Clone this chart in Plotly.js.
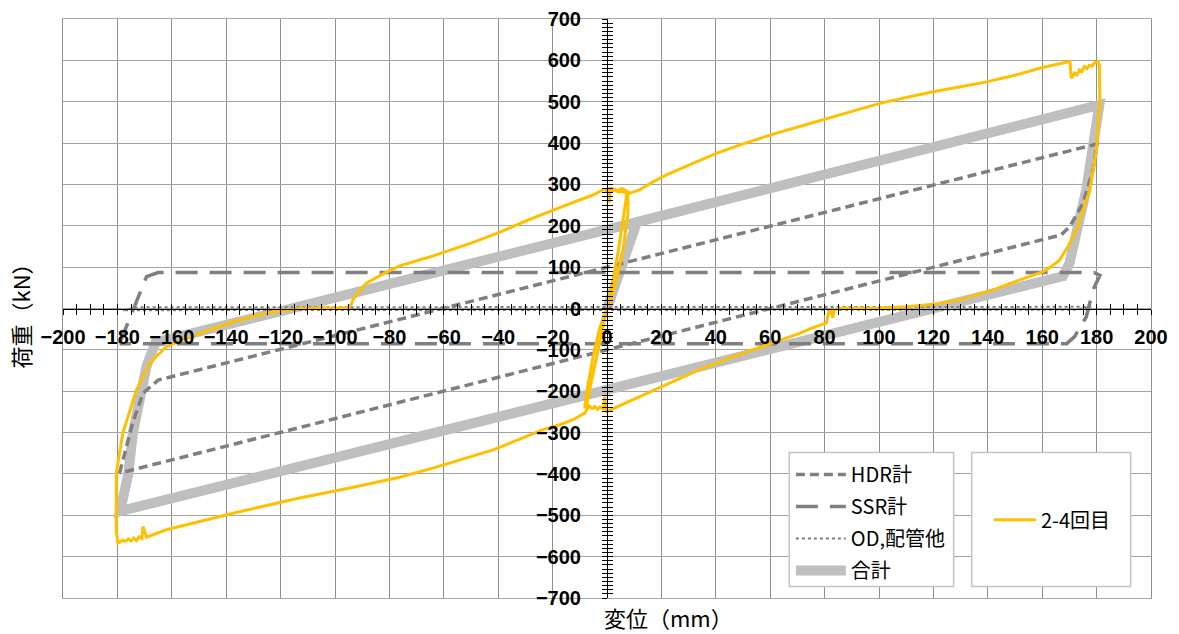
<!DOCTYPE html>
<html>
<head>
<meta charset="utf-8">
<script src="https://cdn.plot.ly/plotly-3.0.1.min.js"></script>
<style>
  html, body { margin: 0; padding: 0; background: #ffffff; }
  #chart { width: 1179px; height: 634px; }
</style>
</head>
<body>
<div id="chart"></div>
<script>
// Load–displacement hysteresis: displacement (mm) vs load (kN)

// HDR計
const hdrX = [-179.2, -174.4, -170.6, -165, 180.2, 178.7, 175, 170.1, 167, -179.2];
const hdrY = [-398, -277, -205, -173, 398, 335, 254, 198, 178, -398];

// SSR計
const ssrX = [-179.2, -176.5, -174.3, -169.3, -165, 179, 181.2, 178.7, 176.2, 171.9, 169, -179.2];
const ssrY = [-85, -40, -3, 77, 87, 87, 80, 45, -20, -68, -85, -85];

// OD,配管他
const odX = [-178, -172, 178, 172, -178];
const odY = [-4, 3, 4, -3, -4];

// 合計
const sumX = [0, 11, 181, 180, 176.2, 170, 167.6, -179, -176, -174.3, -169.3, -166, 11];
const sumY = [0, 209, 492, 440, 287, 109, 78, -490, -400, -301, -140, -82, 209];

// 2-4回目 (measured loop)
const testX = [
  0, 0.4, 2.2, 4, 5.9, 7.1,
  7.4, 6, 4.5, 3, 1.8, 1, 0.9, 0.5, -0.5, 1.5, 3.5, 5.5, 8.4,
  12, 16, 21.8, 30, 40.2, 50, 62.3, 70.8, 79.4, 90, 100.3, 110, 119.9, 130, 139.5, 150, 159, 165, 170.2,
  170.7, 171.9, 172.8, 173.7, 174.6, 175.5, 176.4, 177.3, 178.3, 179.3, 180.5,
  181, 181.2, 180, 177.5, 175, 172.6, 169.5, 166.4, 163, 160.3, 150, 141.9, 129.7, 120, 110, 100, 90, 85,
  83.6, 83, 82.2, 81.6, 80.7,
  75, 70.8, 58.6, 45, 34, 23, 9.6, 4, 1,
  0, -0.5, -0.8, -1.2, -2.5, -3.5, -4.5, -5.5, -6.5, -7.5, -8.2,
  -12.5, -17.4, -23.5, -41.9, -64, -76.2, -94.6, -113, -137.5, -150, -162, -169.3,
  -170.6, -171, -172, -173, -174, -175, -176, -177, -178, -179.8,
  -180.4, -180.4, -180.4, -178, -173, -168.1, -162, -149.7, -137.5, -125.2, -113, -105, -95.2,
  -94, -93.4, -91, -88.5, -82, -76.2, -65, -50, -40, -29, -15, -5, -1.5,
  1, 7.7, 7.7, 5.9, 3.5, 1, 0,
  -1.5, -3.9, -6, -7.6, -8.2, -7, -5.1, -2.8, -0.3
];
const testY = [
  0, 5, 69, 134, 214, 270,
  283, 287, 281, 288, 283, 290, 256, 282, 286, 291, 284, 290, 279,
  287, 303, 323, 347, 375, 398, 424, 440, 456, 476, 496, 510, 524, 536, 548, 564, 581, 590, 597,
  557, 569, 565, 577, 573, 585, 580, 588, 586, 594, 597,
  590, 504, 383, 287, 235, 190, 150, 117, 100, 89, 65, 45, 21, 10, 4, 1, 0.5, 0,
  -3, -22, -2, -6, -35,
  -48, -60, -88, -120, -148, -181, -221, -237, -246,
  -249, -240, -213, -243, -238, -244, -237, -242, -236, -245, -253,
  -269, -281, -293, -342, -386, -408, -434, -458, -495, -515, -535, -553,
  -527, -556, -552, -561, -555, -562, -557, -563, -560, -567,
  -540, -495, -398, -301, -197, -132, -92, -60, -32, -11, 0, 1, 1,
  10, 21, 42, 61, 85, 103, 125, 158, 183, 214, 250, 275, 287,
  290, 279, 230, 142, 69, 13, 0,
  -45, -116, -185, -238, -240, -185, -116, -50, -3
];

// axis ticks
const xRange = [-200, 200];
const yRange = [-700, 700];
const xMajor = 20, xMinor = 5;
const yMajor = 100, yMinor = 10;

const TXT = 'Liberation Sans, Arial, sans-serif';
const JP = 'Noto Sans CJK JP, sans-serif';
const GREY = '#7f7f7f';

const traces = [
  { x: sumX, y: sumY, name: '合計', mode: 'lines', legend: 'legend', legendgroup: 'g4', legendrank: 4,
    line: { color: '#bfbfbf', width: 10 }, hoverinfo: 'skip' },
  { x: hdrX, y: hdrY, name: 'HDR計', mode: 'lines', legend: 'legend', legendgroup: 'g1', legendrank: 1,
    line: { color: GREY, width: 3.5, dash: '9px,5px' }, hoverinfo: 'skip' },
  { x: ssrX, y: ssrY, name: 'SSR計', mode: 'lines', legend: 'legend', legendgroup: 'g2', legendrank: 2,
    line: { color: GREY, width: 3.5, dash: '22px,12px' }, hoverinfo: 'skip' },
  { x: odX, y: odY, name: 'OD,配管他', mode: 'lines', legend: 'legend', legendgroup: 'g3', legendrank: 3,
    line: { color: GREY, width: 2, dash: 'dot' }, hoverinfo: 'skip' },
  { x: testX, y: testY, name: '2-4回目', mode: 'lines', legend: 'legend2',
    line: { color: '#ffc000', width: 3 }, hoverinfo: 'skip' },
  // carriers for the axes drawn through the origin
  { x: [], y: [], xaxis: 'x2', yaxis: 'y2', showlegend: false, hoverinfo: 'skip' },
  { x: [], y: [], xaxis: 'x3', yaxis: 'y3', showlegend: false, hoverinfo: 'skip' }
];

const tickFont = { family: TXT, size: 20, color: '#000000', weight: 700 };

const layout = {
  width: 1179, height: 634,
  margin: { l: 63, r: 28, t: 19, b: 36 },
  paper_bgcolor: '#ffffff', plot_bgcolor: '#ffffff',
  showlegend: true,
  xaxis: {
    range: xRange, tickmode: 'linear', tick0: 0, dtick: xMajor,
    showgrid: true, gridcolor: '#8f8f8f', gridwidth: 1,
    zeroline: false, showticklabels: false, ticks: '',
    showline: true, mirror: true, linecolor: '#a8a8a8', linewidth: 1
  },
  yaxis: {
    range: yRange, tickmode: 'linear', tick0: 0, dtick: yMajor,
    showgrid: true, gridcolor: '#a3a3a3', gridwidth: 1,
    zeroline: false, showticklabels: false, ticks: '',
    showline: true, mirror: true, linecolor: '#8f8f8f', linewidth: 1
  },
  xaxis2: {
    overlaying: 'x', anchor: 'free', position: 0.5, side: 'bottom',
    range: xRange, tickmode: 'linear', tick0: 0, dtick: xMajor,
    ticks: 'outside', ticklen: 5, tickwidth: 1, tickcolor: '#000000',
    minor: { dtick: xMinor, tick0: 0, ticks: 'outside', ticklen: 5, tickwidth: 1, tickcolor: '#000000', showgrid: false },
    showline: true, linecolor: '#000000', linewidth: 1.2,
    showgrid: false, zeroline: false, tickfont: tickFont, ticklabelstandoff: 5
  },
  xaxis3: {
    overlaying: 'x', anchor: 'free', position: 0.5, side: 'bottom',
    range: xRange, tickmode: 'linear', tick0: 0, dtick: xMajor,
    ticks: 'inside', ticklen: 5, tickwidth: 1, tickcolor: '#000000',
    minor: { dtick: xMinor, tick0: 0, ticks: 'inside', ticklen: 5, tickwidth: 1, tickcolor: '#000000', showgrid: false },
    showline: false, showgrid: false, zeroline: false, showticklabels: false
  },
  yaxis2: {
    overlaying: 'y', anchor: 'free', position: 0.5, side: 'left',
    range: yRange, tickmode: 'linear', tick0: 0, dtick: yMajor,
    ticks: 'outside', ticklen: 5, tickwidth: 1, tickcolor: '#000000',
    minor: { dtick: yMinor, tick0: 0, ticks: 'outside', ticklen: 5, tickwidth: 1, tickcolor: '#000000', showgrid: false },
    showline: true, linecolor: '#000000', linewidth: 1.2,
    showgrid: false, zeroline: false, tickfont: tickFont, ticklabelstandoff: 17
  },
  yaxis3: {
    overlaying: 'y', anchor: 'free', position: 0.5, side: 'left',
    range: yRange, tickmode: 'linear', tick0: 0, dtick: yMajor,
    ticks: 'inside', ticklen: 5, tickwidth: 1, tickcolor: '#000000',
    minor: { dtick: yMinor, tick0: 0, ticks: 'inside', ticklen: 5, tickwidth: 1, tickcolor: '#000000', showgrid: false },
    showline: false, showgrid: false, zeroline: false, showticklabels: false
  },
  legend: {
    x: 0.669, y: 0.247, xanchor: 'left', yanchor: 'top',
    bgcolor: 'rgba(0,0,0,0)', borderwidth: 0,
    font: { family: JP, size: 20, color: '#000000' },
    itemwidth: 50, tracegroupgap: 3, traceorder: 'grouped'
  },
  legend2: {
    x: 0.851, y: 0.135, xanchor: 'left', yanchor: 'middle',
    bgcolor: 'rgba(0,0,0,0)', borderwidth: 0,
    font: { family: JP, size: 20, color: '#000000' },
    itemwidth: 42
  },
  shapes: [
    { type: 'rect', xref: 'paper', yref: 'paper', x0: 0.6675, x1: 0.8186, y0: 0.020, y1: 0.2513,
      line: { color: '#c4c4c4', width: 1.5 }, fillcolor: '#ffffff', layer: 'above' },
    { type: 'rect', xref: 'paper', yref: 'paper', x0: 0.8352, x1: 0.9813, y0: 0.020, y1: 0.2513,
      line: { color: '#c4c4c4', width: 1.5 }, fillcolor: '#ffffff', layer: 'above' }
  ],
  annotations: [
    { text: '変位（mm）', xref: 'paper', yref: 'paper', x: 0.4953, y: -0.032,
      xanchor: 'left', yanchor: 'middle', showarrow: false,
      font: { family: JP, size: 22, color: '#000000' } },
    { text: '荷重（kN）', xref: 'paper', yref: 'paper', x: -0.0398, y: 0.496,
      xanchor: 'center', yanchor: 'middle', textangle: -90, showarrow: false,
      font: { family: JP, size: 22, color: '#000000' } }
  ]
};

Plotly.newPlot('chart', traces, layout, { displayModeBar: false, staticPlot: true });
</script>
</body>
</html>
